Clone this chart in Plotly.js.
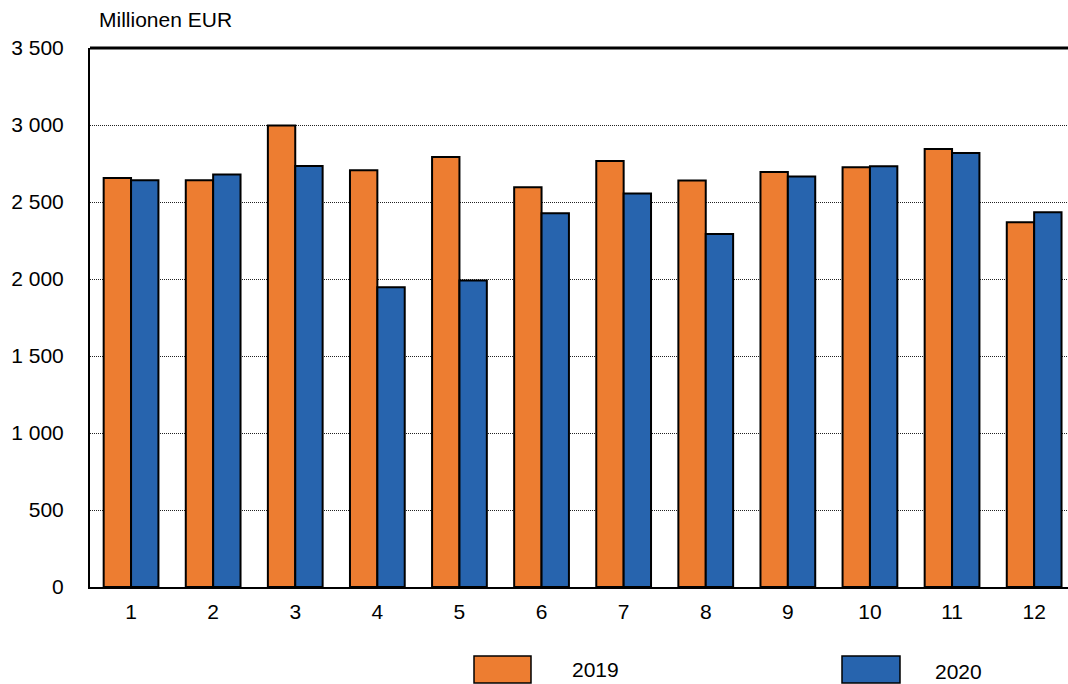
<!DOCTYPE html>
<html>
<head>
<meta charset="utf-8">
<script src="https://cdn.plot.ly/plotly-3.0.1.min.js"></script>
<style>html,body{margin:0;padding:0;background:#fff;}#chart{width:1068px;height:684px;}</style>
</head>
<body>
<div id="chart"></div>
<script>
const months = [1,2,3,4,5,6,7,8,9,10,11,12];
const values2019 = [2656,2641,2996,2706,2792,2595,2766,2639,2695,2725,2844,2368];
const values2020 = [2641,2678,2734,1946,1990,2427,2555,2292,2665,2732,2818,2433];
const seriesNames = ['2019','2020'];
const yTicks = [0,500,1000,1500,2000,2500,3000,3500];
const unitLabel = 'Millionen EUR';

const colors = ['#ED7D31','#2764AE'];
const font = {family:'Liberation Sans, Arial, sans-serif', size:21, color:'#000'};

const traces = [values2019, values2020].map((v,i)=>({
  type:'bar', x:months, y:v, name:seriesNames[i],
  marker:{color:colors[i], line:{color:'#000', width:2}},
  showlegend:false, hoverinfo:'x+y'
}));

const L=90, W=978, T=48, H=539;
const px = x => (x-L)/W;
const py = y => (T+H-y)/H;

const legendItems = [
  {box:[474,531], text:570, name:seriesNames[0], color:colors[0], ty:669},
  {box:[842,900], text:933, name:seriesNames[1], color:colors[1], ty:671}
];
const shapes = legendItems.map(it=>({
  type:'rect', xref:'paper', yref:'paper',
  x0:px(it.box[0]), x1:px(it.box[1]), y0:py(656), y1:py(683),
  fillcolor:it.color, line:{color:'#000', width:1.5}
}));
shapes.push({type:'line', xref:'paper', yref:'paper', x0:0, x1:1, y0:1, y1:1,
  line:{color:'#000', width:3}});
const annotations = legendItems.map(it=>({
  xref:'paper', yref:'paper', x:px(it.text), y:py(it.ty),
  xanchor:'left', yanchor:'middle', text:it.name, showarrow:false, font:font
}));
annotations.push({xref:'paper', yref:'paper', x:px(97), y:py(19),
  xanchor:'left', yanchor:'middle', text:unitLabel, showarrow:false, font:font});

const layout = {
  width:1068, height:684,
  margin:{l:L, r:0, t:T, b:684-T-H},
  paper_bgcolor:'#fff', plot_bgcolor:'#fff',
  font:font,
  separators:', ',
  barmode:'group', bargap:0.333, bargroupgap:0,
  xaxis:{
    range:[0.5, 0.5+W/82.1], tickvals:months, ticks:'', showgrid:false,
    showline:true, linecolor:'#000', linewidth:2, mirror:false,
    ticklabelstandoff:5, zeroline:false, fixedrange:true
  },
  yaxis:{
    range:[0,3500], tickvals:yTicks, tickformat:',d', ticks:'',
    showgrid:true, gridcolor:'#222', griddash:'1px,1px', gridwidth:1,
    showline:true, linecolor:'#000', linewidth:2,
    ticklabelstandoff:20, zeroline:false, fixedrange:true
  },
  shapes:shapes, annotations:annotations
};
Plotly.newPlot('chart', traces, layout, {displayModeBar:false, staticPlot:true});
</script>
</body>
</html>
